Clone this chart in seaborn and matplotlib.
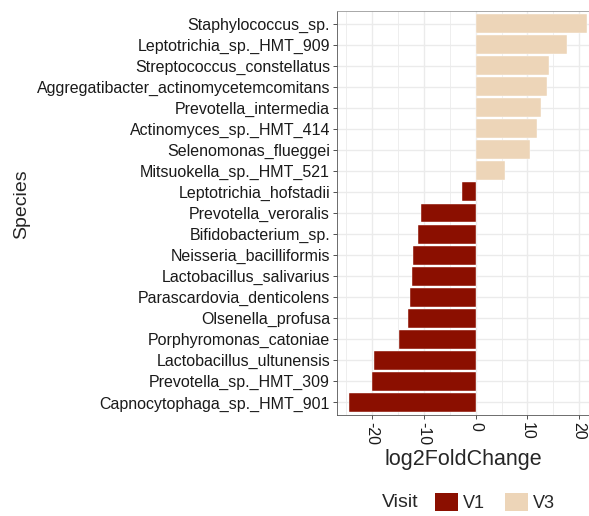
import matplotlib
matplotlib.use("Agg")
import matplotlib.pyplot as plt
from matplotlib.patches import Patch
from matplotlib.ticker import MultipleLocator
from matplotlib.offsetbox import HPacker
import seaborn as sns
import pandas as pd

species = [
    "Staphylococcus_sp.",
    "Leptotrichia_sp._HMT_909",
    "Streptococcus_constellatus",
    "Aggregatibacter_actinomycetemcomitans",
    "Prevotella_intermedia",
    "Actinomyces_sp._HMT_414",
    "Selenomonas_flueggei",
    "Mitsuokella_sp._HMT_521",
    "Leptotrichia_hofstadii",
    "Prevotella_veroralis",
    "Bifidobacterium_sp.",
    "Neisseria_bacilliformis",
    "Lactobacillus_salivarius",
    "Parascardovia_denticolens",
    "Olsenella_profusa",
    "Porphyromonas_catoniae",
    "Lactobacillus_ultunensis",
    "Prevotella_sp._HMT_309",
    "Capnocytophaga_sp._HMT_901",
]
log2fc = [21.5, 17.6, 14.2, 13.8, 12.6, 11.8, 10.5, 5.7, -2.6, -10.5,
          -11.1, -12.2, -12.4, -12.6, -13.0, -14.9, -19.7, -20.0, -24.5]
visit = ["V3"] * 8 + ["V1"] * 11
visit_levels = ["V1", "V3"]
palette = {"V1": "#8B0F00", "V3": "#EDD5B8"}

df = pd.DataFrame({"Species": species, "log2FoldChange": log2fc, "Visit": visit})

sns.set_theme(style="white")
plt.rcParams["font.family"] = ["Liberation Sans", "DejaVu Sans"]

fig = plt.figure(figsize=(5.89, 5.16), dpi=100)
W, H = 589, 516
left, right, top, bottom = 337, 589, 11, 415
ax = fig.add_axes([left / W, 1 - bottom / H, (right - left) / W, (bottom - top) / H])

sns.barplot(data=df, x="log2FoldChange", y="Species", hue="Visit",
            hue_order=visit_levels, palette=palette, dodge=False, saturation=1,
            orient="h", width=0.9, order=species, ax=ax,
            edgecolor="white", linewidth=0.3, legend=False, zorder=3)

n = len(species)
ax.set_ylim(n - 1 + 0.6, -0.6)
ax.set_xlim(-26.8, 21.9)
ax.xaxis.set_major_locator(MultipleLocator(10))
ax.xaxis.set_minor_locator(MultipleLocator(5))
ax.grid(True, which="major", axis="both", color="#EBEBEB", linewidth=1.0, zorder=0)
ax.grid(True, which="minor", axis="x", color="#EBEBEB", linewidth=0.6, zorder=0)
ax.set_axisbelow(True)

for side in ["left", "top", "bottom"]:
    ax.spines[side].set_visible(True)
    ax.spines[side].set_color("#555555")
    ax.spines[side].set_linewidth(0.6)
ax.spines["top"].set_color("#9a9a9a")
ax.spines["right"].set_visible(False)

ax.tick_params(axis="both", which="major", length=3, width=0.6, color="#333333",
               labelsize=11.5, labelcolor="#1a1a1a", pad=2, bottom=True, left=True)
ax.tick_params(axis="x", which="minor", length=0)
ax.set_xticks([-20, -10, 0, 10, 20])
ax.set_xticklabels(["-20", "-10", "0", "10", "20"], rotation=-90, va="top", ha="center")

ax.set_xlabel("log2FoldChange", fontsize=15.5, labelpad=3)
ax.set_ylabel("")
fig.text(22 / W, 1 - 204 / H, "Species", rotation=90, fontsize=14,
         ha="center", va="center")

handles = [Patch(facecolor=palette[v], edgecolor="none") for v in visit_levels]
leg = fig.legend(handles, visit_levels, title="Visit", loc="lower center",
                 bbox_to_anchor=(468 / W, -12 / H), ncol=2, frameon=False,
                 fontsize=13, title_fontsize=14, handlelength=1.3, handleheight=1.15,
                 handletextpad=0.25, columnspacing=1.1)
# title sits on the same row as the keys
title_box = leg._legend_title_box
handle_box = leg._legend_handle_box
leg._legend_box._children = [HPacker(pad=0, sep=12, children=[title_box, handle_box],
                                     align="center")]

fig.savefig("out.png", dpi=100)
